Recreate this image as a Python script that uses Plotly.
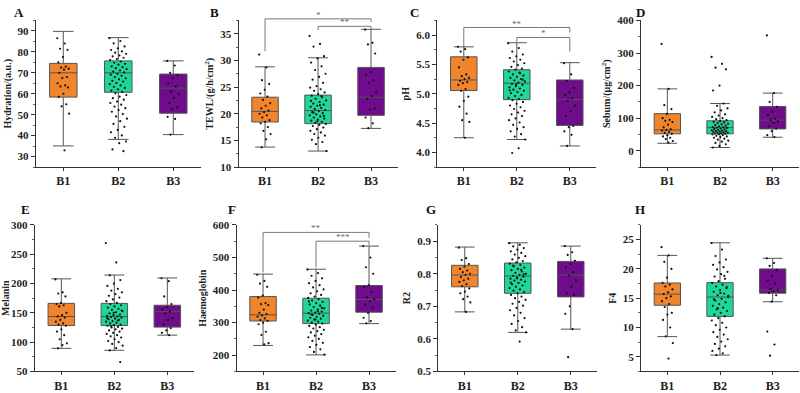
import plotly.graph_objects as go

groups = ["B1", "B2", "B3"]
colors = ["#F0852D", "#1ED796", "#6E0C8C"]

# ---------------- box statistics (q1, median, q3, lower whisker, upper whisker) per group
hyd_stats = [[58.4, 70.0, 74.5, 35.1, 89.8], [60.7, 70.0, 75.7, 38.2, 86.8], [50.7, 62.7, 69.4, 40.5, 75.7]]
tewl_stats = [[18.45, 20.45, 23.1, 13.75, 28.8], [18.15, 20.6, 23.5, 13.0, 30.5], [19.7, 23.1, 28.7, 17.25, 35.85]]
ph_stats = [[5.055, 5.235, 5.63, 4.25, 5.80], [4.90, 5.18, 5.41, 4.22, 5.87], [4.46, 4.90, 5.235, 4.11, 5.53]]
seb_stats = [[52, 64, 114, 23, 190], [52, 71, 92, 10, 145], [67, 94, 136, 41.5, 177]]
mel_stats = [[128.4, 143.7, 166.2, 89.5, 208], [128.4, 143.7, 166.2, 86.2, 214.5], [125.7, 152, 163, 112, 209.5]]
hae_stats = [[305, 324, 380, 230, 449], [297, 329, 375, 201, 464], [332, 371, 414, 297, 535]]
r2_stats = [[0.760, 0.796, 0.826, 0.683, 0.882], [0.740, 0.793, 0.833, 0.620, 0.895], [0.729, 0.796, 0.838, 0.630, 0.885]]
f4_stats = [[13.8, 15.7, 17.6, 8.45, 22.3], [11.9, 15.2, 17.65, 5.3, 24.45], [15.85, 16.4, 20.0, 14.4, 21.8]]

hyd_pts = [
    [86.5, 84.0, 81.5, 81.0, 77.5, 75.0, 73.0, 72.5, 72.0, 71.5, 70.0, 68.0, 67.5, 65.0, 64.0, 63.5, 63.0, 60.0, 58.5, 55.0, 54.0, 50.5, 33.0],
    [86.5, 85.2, 84.1, 82.6, 81.7, 80.9, 80.2, 79.6, 79.1, 78.3, 77.9, 77.2, 76.6, 76.1, 75.4, 74.8, 74.3, 73.9, 73.1, 72.7, 72.2, 71.8, 71.1, 70.6,
     70.2, 69.5, 69.1, 68.6, 68.0, 67.4, 66.9, 66.2, 65.8, 65.1, 64.6, 64.0, 63.3, 62.8, 62.1, 61.5, 60.9, 60.2, 59.4, 58.6, 57.9, 57.2, 56.3,
     55.6, 54.8, 53.9, 53.1, 52.2, 51.4, 50.3, 49.2, 48.1, 46.9, 45.6, 44.2, 42.8, 41.6, 40.1, 39.0, 37.2, 36.4, 33.4, 32.6],
    [75.7, 73.5, 70.0, 69.0, 67.5, 65.0, 63.5, 61.0, 60.0, 58.0, 55.5, 53.5, 52.5, 49.0, 48.0, 40.5],
]
tewl_pts = [
    [31.1, 28.7, 26.3, 25.6, 24.5, 23.8, 23.2, 22.6, 22.0, 21.5, 21.0, 20.6, 20.3, 20.0, 19.7, 19.3, 18.8, 18.5, 18.2, 17.5, 16.8, 16.2, 15.2, 13.7],
    [34.6, 33.1, 32.6, 30.8, 30.4, 29.6, 28.9, 28.2, 27.5, 26.9, 26.4, 25.8, 25.2, 24.9, 24.6, 24.3, 24.0, 23.7, 23.4, 23.1, 22.8, 22.5, 22.2,
     21.9, 21.7, 21.5, 21.3, 21.1, 20.9, 20.7, 20.5, 20.3, 20.1, 19.9, 19.7, 19.5, 19.3, 19.1, 18.9, 18.7, 18.5, 18.3, 18.1, 17.9, 17.7, 17.4,
     17.1, 16.8, 16.5, 16.2, 15.9, 15.5, 15.1, 14.7, 14.3, 13.0, 21.6, 20.2, 19.6, 18.6, 22.4, 23.3],
    [35.8, 33.3, 33.0, 31.3, 27.8, 27.3, 26.2, 25.8, 24.0, 23.3, 22.8, 21.0, 20.8, 19.3, 18.2, 17.3],
]
ph_pts = [
    [5.80, 5.76, 5.72, 5.62, 5.58, 5.45, 5.33, 5.30, 5.27, 5.25, 5.22, 5.20, 5.18, 5.15, 5.08, 5.05, 4.95, 4.88, 4.78, 4.66, 4.55, 4.52, 4.25],
    [5.86, 5.78, 5.72, 5.67, 5.64, 5.61, 5.58, 5.55, 5.52, 5.49, 5.46, 5.43, 5.41, 5.38, 5.36, 5.33, 5.31, 5.29, 5.27, 5.25, 5.23, 5.21, 5.19,
     5.17, 5.15, 5.13, 5.11, 5.09, 5.07, 5.05, 5.03, 5.01, 4.98, 4.96, 4.93, 4.91, 4.89, 4.86, 4.83, 4.80, 4.77, 4.74, 4.71, 4.68, 4.65, 4.62,
     4.58, 4.55, 4.51, 4.47, 4.43, 4.40, 4.36, 4.31, 4.27, 4.22, 4.07, 3.99, 5.24, 5.16, 5.06, 5.35],
    [5.52, 5.33, 5.22, 5.10, 5.03, 4.98, 4.92, 4.88, 4.80, 4.70, 4.62, 4.45, 4.43, 4.36, 4.30, 4.11],
]
seb_pts = [
    [328, 190, 140, 128, 113, 100, 95, 92, 88, 80, 72, 66, 64, 62, 58, 55, 52, 48, 44, 40, 36, 30, 25],
    [288, 267, 255, 250, 200, 185, 145, 138, 130, 124, 118, 112, 108, 104, 100, 97, 94, 91, 89, 87, 85, 83, 81, 79, 77, 75, 73, 72, 71,
     70, 68, 67, 66, 64, 63, 62, 61, 60, 59, 58, 57, 56, 55, 54, 53, 52, 51, 50, 48, 46, 44, 42, 40, 37, 34, 31, 28, 24, 20, 15, 10],
    [354, 177, 150, 135, 120, 110, 98, 94, 90, 85, 75, 68, 60, 48, 42],
]
mel_pts = [
    [207, 185, 183, 178, 167, 165, 163, 161, 150, 146, 144, 142, 138, 135, 132, 130, 128, 122, 118, 112, 105, 98, 95, 89.5],
    [269, 236, 214, 206, 200, 196, 191, 188, 185, 182, 179, 176, 173, 170, 167, 165, 163, 161, 159, 157, 155, 153, 151, 149, 147,
     146, 145, 144, 143, 142, 140, 139, 138, 136, 135, 133, 132, 130, 129, 128, 126, 125, 123, 122, 120, 118, 116, 114, 112, 110,
     108, 105, 102, 100, 97, 94, 90, 86, 66, 150, 141, 137, 127, 154],
    [209, 204, 178, 165, 160, 156, 152, 149, 141, 138, 130, 124, 120, 116, 112],
]
hae_pts = [
    [447, 428, 420, 410, 383, 377, 360, 357, 354, 340, 330, 326, 322, 318, 313, 308, 305, 300, 295, 272, 262, 237, 233],
    [463, 452, 444, 436, 428, 421, 415, 408, 402, 396, 390, 385, 380, 376, 372, 368, 364, 360, 356, 352, 348, 344, 340, 337, 334,
     331, 329, 327, 324, 321, 318, 315, 312, 309, 306, 303, 300, 297, 294, 290, 286, 282, 278, 274, 270, 265, 260, 255, 250, 244,
     238, 232, 225, 218, 210, 202, 335, 325, 345, 310, 365],
    [535, 500, 470, 450, 415, 410, 395, 378, 372, 365, 355, 345, 330, 315, 305, 298],
]
r2_pts = [
    [0.880, 0.848, 0.842, 0.830, 0.822, 0.815, 0.810, 0.805, 0.800, 0.797, 0.790, 0.785, 0.780, 0.775, 0.768, 0.762, 0.755, 0.745, 0.740,
     0.730, 0.722, 0.712, 0.683],
    [0.894, 0.889, 0.884, 0.879, 0.874, 0.869, 0.864, 0.859, 0.854, 0.849, 0.844, 0.839, 0.835, 0.831, 0.827, 0.823, 0.819, 0.815, 0.811,
     0.807, 0.803, 0.800, 0.797, 0.794, 0.791, 0.788, 0.785, 0.782, 0.779, 0.776, 0.772, 0.768, 0.764, 0.760, 0.756, 0.752, 0.748, 0.744,
     0.740, 0.735, 0.730, 0.725, 0.720, 0.714, 0.708, 0.702, 0.695, 0.688, 0.680, 0.672, 0.664, 0.655, 0.646, 0.636, 0.626, 0.620, 0.592,
     0.825, 0.798, 0.786, 0.773, 0.812],
    [0.885, 0.866, 0.858, 0.840, 0.830, 0.820, 0.805, 0.795, 0.780, 0.760, 0.740, 0.735, 0.700, 0.677, 0.630, 0.544],
]
f4_pts = [
    [23.7, 22.3, 21.2, 20.0, 18.5, 17.6, 17.3, 17.0, 16.5, 16.0, 15.7, 15.3, 15.0, 14.5, 14.0, 13.5, 12.5, 12.2, 11.3, 10.0, 8.5, 7.35, 4.7],
    [24.4, 23.3, 22.2, 21.6, 21.1, 20.7, 20.3, 19.9, 19.5, 19.1, 18.7, 18.3, 17.9, 17.6, 17.3, 17.0, 16.7, 16.4, 16.1, 15.8, 15.5, 15.2,
     14.9, 14.6, 14.3, 14.0, 13.7, 13.4, 13.1, 12.8, 12.5, 12.2, 11.9, 11.6, 11.2, 10.8, 10.4, 10.0, 9.6, 9.2, 8.8, 8.4, 8.0, 7.6, 7.2,
     6.8, 6.4, 6.0, 5.6, 5.3, 16.9, 15.9, 14.8, 18.8, 13.3, 15.4],
    [21.8, 21.0, 20.5, 19.8, 18.8, 18.0, 17.5, 16.6, 16.4, 16.2, 15.9, 15.5, 14.4, 9.3, 7.1, 5.2],
]

panels = [
    dict(letter="A", title="Hydration/(a.u.)", stats=hyd_stats, pts=hyd_pts, yr=[25, 95], tick0=30, dtick=10, fmt="", xdom=[31, 197], row=0, lx=7),
    dict(letter="B", title="TEWL/(g/h/cm<sup>2</sup>)", stats=tewl_stats, pts=tewl_pts, yr=[10, 37.5], tick0=10, dtick=5, fmt="", xdom=[235, 395], row=0, lx=204),
    dict(letter="C", title="pH", stats=ph_stats, pts=ph_pts, yr=[3.75, 6.25], tick0=4.0, dtick=0.5, fmt=".1f", xdom=[435, 595], row=0, lx=406),
    dict(letter="D", title="Sebum/(μg/cm<sup>2</sup>)", stats=seb_stats, pts=seb_pts, yr=[-50, 400], tick0=0, dtick=100, fmt="", xdom=[640, 799], row=0, lx=633),
    dict(letter="E", title="Melanin", stats=mel_stats, pts=mel_pts, yr=[50, 300], tick0=50, dtick=50, fmt="", xdom=[30, 190], row=1, lx=14),
    dict(letter="F", title="Haemoglobin", stats=hae_stats, pts=hae_pts, yr=[150, 600], tick0=200, dtick=100, fmt="", xdom=[233, 393], row=1, lx=222),
    dict(letter="G", title="R2", stats=r2_stats, pts=r2_pts, yr=[0.5, 0.95], tick0=0.5, dtick=0.1, fmt=".1f", xdom=[436, 596], row=1, lx=422),
    dict(letter="H", title="F4", stats=f4_stats, pts=f4_pts, yr=[2.5, 27.5], tick0=5, dtick=5, fmt="", xdom=[640, 799], row=1, lx=632),
]
letter_y = [7, 211]

# significance brackets: (panel index, left group, right group, bracket y, left leg end, right leg end, label)
sig = [
    (1, 0, 2, 37.8, 31.7, 37.2, "*"),
    (1, 1, 2, 36.4, 35.7, 35.9, "**"),
    (2, 0, 2, 6.13, 5.78, 6.045, "**"),
    (2, 1, 2, 5.96, 5.86, 5.72, "*"),
    (5, 0, 2, 577, 454, 560, "**"),
    (5, 1, 2, 550, 469, 538, "***"),
]

W, H = 800, 393
row_px = [(15, 167), (227, 379)]
XR = [-0.5, 2.5]
FONT = "Liberation Serif, Times New Roman, serif"

fig = go.Figure()
layout = dict(width=W, height=H, margin=dict(l=0, r=0, t=0, b=0), paper_bgcolor="white",
              plot_bgcolor="white", showlegend=False, shapes=[], annotations=[])

for i, p in enumerate(panels):
    n = i + 1
    xa, ya = f"x{n}", f"y{n}"
    xk, yk = f"xaxis{n}", f"yaxis{n}"
    top, bot = row_px[p["row"]]
    xd = [p["xdom"][0] / W, p["xdom"][1] / W]
    yd = [1 - bot / H, 1 - top / H]
    p["xd"], p["yd"] = xd, yd
    layout[xk] = dict(domain=xd, anchor=ya, range=XR, tickmode="array", tickvals=[0, 1, 2], ticktext=groups,
                      showline=True, linecolor="#333", linewidth=1, ticks="outside", ticklen=3, tickcolor="#333",
                      showgrid=False, zeroline=False, fixedrange=True,
                      tickfont=dict(family=FONT, size=12, color="#222", weight="bold"))
    layout[yk] = dict(domain=yd, anchor=xa, range=p["yr"], tick0=p["tick0"], dtick=p["dtick"], tickformat=p["fmt"],
                      showline=True, linecolor="#333", linewidth=1, ticks="outside", ticklen=4, tickcolor="#333",
                      minor=dict(ticks="outside", ticklen=2, tickcolor="#666", dtick=p["dtick"] / 2),
                      showgrid=False, zeroline=False, fixedrange=True,
                      tickfont=dict(family=FONT, size=11, color="#222", weight="bold"),
                      title=dict(text=p["title"], standoff=4, font=dict(family=FONT, size=10, color="#222", weight="bold")))
    for g in range(3):
        q1, med, q3, lo, hi = p["stats"][g]
        fig.add_trace(go.Box(x=[g], q1=[q1], median=[med], q3=[q3], lowerfence=[lo], upperfence=[hi],
                             width=0.5, whiskerwidth=0.75, fillcolor=colors[g],
                             line=dict(color="#555", width=1), boxpoints=False, hoverinfo="skip",
                             xaxis=xa, yaxis=ya))
    for g in range(3):
        vals = p["pts"][g]
        spread = 0.32 if g == 1 else 0.22
        xs = [g + ((k * 0.6180339) % 1.0 - 0.5) * spread for k in range(len(vals))]
        fig.add_trace(go.Scatter(x=xs, y=vals, mode="markers", marker=dict(color="#111", size=2.2),
                                 hoverinfo="skip", xaxis=xa, yaxis=ya))
    layout["annotations"].append(dict(text=f"<b>{p['letter']}</b>", xref="paper", yref="paper",
                                      x=p["lx"] / W, y=1 - letter_y[p["row"]] / H,
                                      xanchor="left", yanchor="middle", showarrow=False,
                                      font=dict(family=FONT, size=13, color="#111")))


def to_paper(p, xv, yv):
    xd, yd = p["xd"], p["yd"]
    px = xd[0] + (xv - XR[0]) / (XR[1] - XR[0]) * (xd[1] - xd[0])
    py = yd[0] + (yv - p["yr"][0]) / (p["yr"][1] - p["yr"][0]) * (yd[1] - yd[0])
    return px, py


for (pi, g1, g2, yb, yl, yr_, lab) in sig:
    p = panels[pi]
    x1, yb1 = to_paper(p, g1, yb)
    x2, _ = to_paper(p, g2, yb)
    _, yl1 = to_paper(p, g1, yl)
    _, yr1 = to_paper(p, g2, yr_)
    path = f"M {x1},{yl1} L {x1},{yb1} L {x2},{yb1} L {x2},{yr1}"
    layout["shapes"].append(dict(type="path", path=path, xref="paper", yref="paper",
                                 line=dict(color="#777", width=1)))
    layout["annotations"].append(dict(text=lab, xref="paper", yref="paper", x=(x1 + x2) / 2, y=yb1,
                                      xanchor="center", yanchor="bottom", showarrow=False, yshift=-3,
                                      font=dict(family=FONT, size=9, color="#666")))

fig.update_layout(**layout)
fig.write_html("out.html", config={"displayModeBar": False},
               post_script="document.body.style.margin='0';document.body.style.overflow='hidden';")
